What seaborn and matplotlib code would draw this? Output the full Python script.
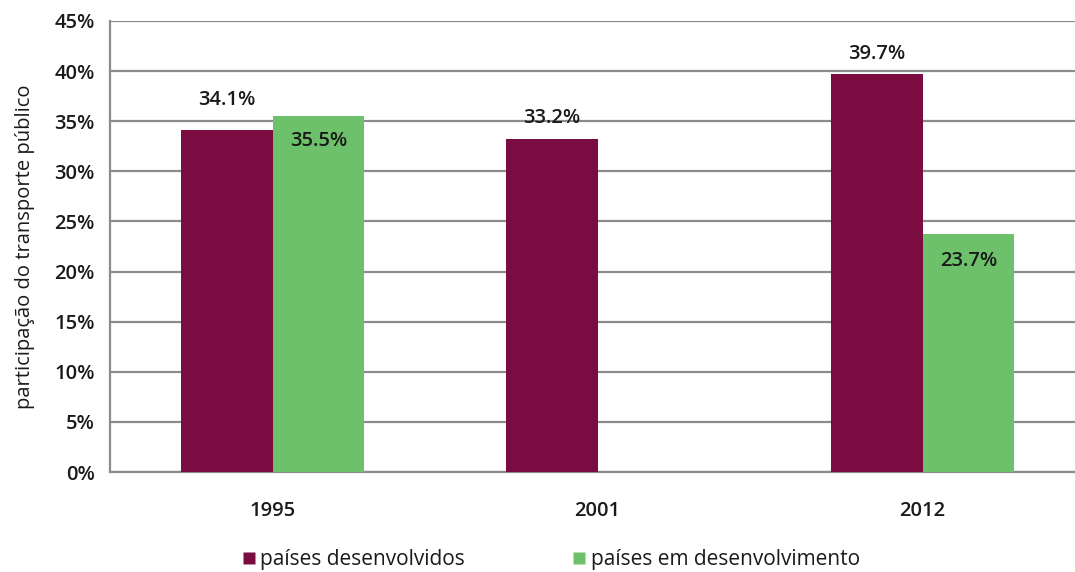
import matplotlib
matplotlib.use("Agg")
import matplotlib.pyplot as plt
from matplotlib.lines import Line2D
import numpy as np
import pandas as pd
import seaborn as sns

# Share of public transport by year and country group (%)
years = ["1995", "2001", "2012"]
groups = ["países desenvolvidos", "países em desenvolvimento"]
developed = [34.1, 33.2, 39.7]
developing = [35.5, np.nan, 23.7]
y_ticks = [0, 5, 10, 15, 20, 25, 30, 35, 40, 45]
y_label = "participação do transporte público"

colors = {"países desenvolvidos": "#7B0C42", "países em desenvolvimento": "#6CC16A"}

sns.set_theme(style="white")
plt.rcParams["font.family"] = ["Open Sans", "DejaVu Sans"]

df = pd.DataFrame({
    "ano": years * 2,
    "grupo": [groups[0]] * 3 + [groups[1]] * 3,
    "valor": developed + developing,
})

fig = plt.figure(figsize=(10.75, 5.72), dpi=100)
ax = fig.add_axes([110 / 1075, 100 / 572, 975 / 1075, 451 / 572])

sns.barplot(data=df.dropna(), x="ano", y="valor", hue="grupo", order=years,
            hue_order=groups, palette=colors, width=0.566, saturation=1,
            edgecolor="none", linewidth=0, ax=ax, legend=False, zorder=3)

ax.set_xlim(-0.5, 2.5)
ax.set_ylim(0, 45)
ax.set_yticks(y_ticks)
ax.set_yticklabels([f"{t}%" for t in y_ticks])
ax.yaxis.grid(True, color="#8C8C8C", linewidth=1.6, zorder=0)
ax.set_axisbelow(True)

for s in ["top", "right"]:
    ax.spines[s].set_visible(False)
for s in ["left", "bottom"]:
    ax.spines[s].set_color("#8C8C8C")
    ax.spines[s].set_linewidth(1.6)

fs = 14.5

# category-boundary ticks on the x axis, labels centred on the groups
ax.set_xticks([0.5, 1.5], minor=True)
ax.tick_params(axis="x", which="minor", length=7, width=1.6, color="#8C8C8C", direction="out")
ax.tick_params(axis="x", which="major", length=0, pad=21, labelsize=fs, labelcolor="#1a1a1a")
ax.tick_params(axis="y", length=6, width=1.6, color="#8C8C8C", direction="out", pad=5,
               labelsize=fs, labelcolor="#1a1a1a")
for lab in ax.get_xticklabels() + ax.get_yticklabels():
    lab.set_fontweight("semibold")

ax.set_xlabel("")
ax.set_ylabel(y_label, fontsize=14.5, color="#1a1a1a", labelpad=14)

# value labels: developed above the bar, developing inside near the top
offsets = {groups[0]: [30, 21, 20], groups[1]: [-25, None, -27]}
for container, grp in zip(ax.containers, groups):
    for bar, off in zip(container, [o for o in offsets[grp] if o is not None]):
        h = bar.get_height()
        if np.isnan(h):
            continue
        ax.annotate(f"{h:.1f}%", (bar.get_x() + bar.get_width() / 2, h),
                    xytext=(0, off * 0.72), textcoords="offset points",
                    ha="center", va="center", fontsize=fs, fontweight="semibold",
                    color="#1a1a1a", zorder=5)

handles = [Line2D([0], [0], marker="s", linestyle="none", markersize=9,
                  markerfacecolor=colors[g], markeredgecolor="none") for g in groups]
fig.legend(handles, groups, loc="center", bbox_to_anchor=(549 / 1075, 1 - 560 / 572),
           ncol=2, frameon=False, fontsize=15, handletextpad=0.05, columnspacing=5.0,
           labelcolor="#1a1a1a", handlelength=1.0)

fig.savefig("out.png", dpi=100)
